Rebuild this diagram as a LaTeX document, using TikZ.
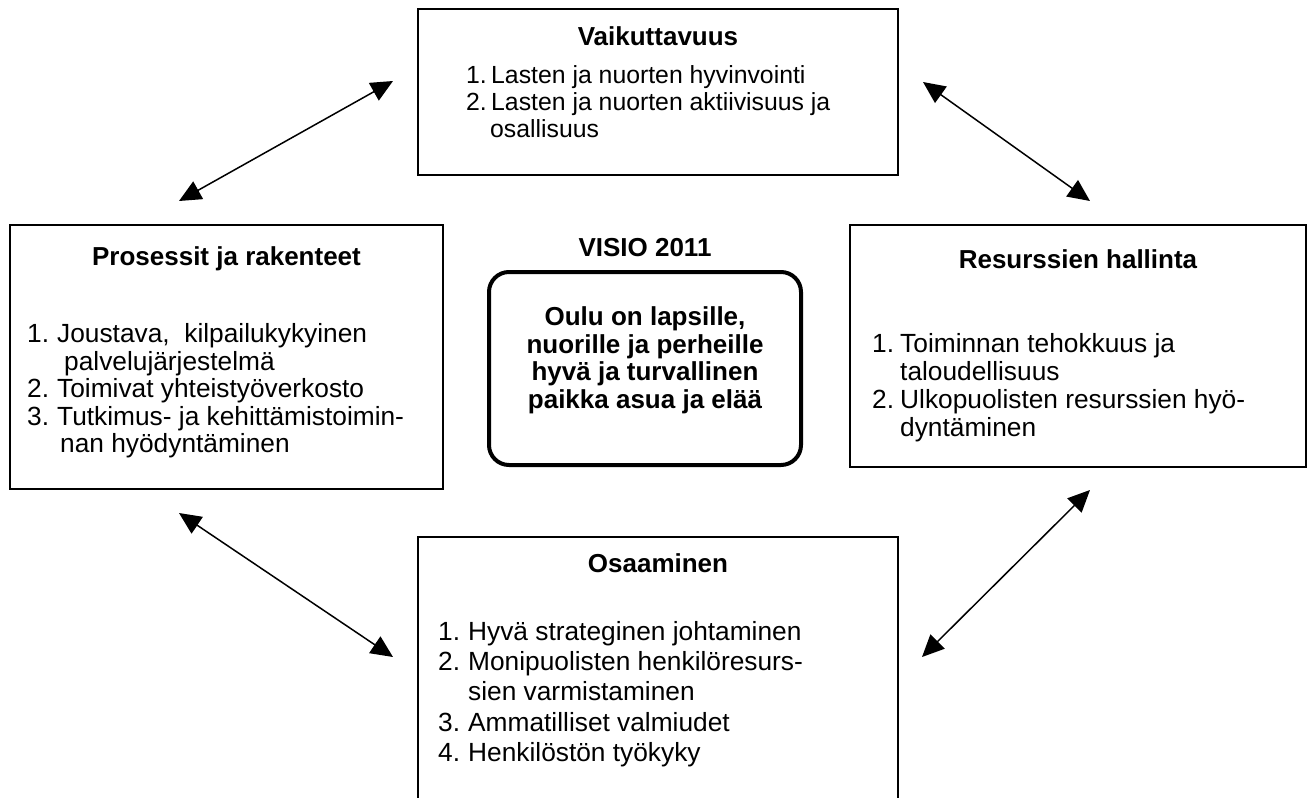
\documentclass[tikz,border=0pt]{standalone}
\usepackage{fontspec}
\setmainfont{Liberation Sans}
\usetikzlibrary{arrows.meta}
\begin{document}
\begin{tikzpicture}[x=1pt,y=-1pt,
  box/.style={draw, line width=1.5pt, inner sep=0pt},
  visionbox/.style={draw, line width=4pt, rounded corners=20pt, inner sep=0pt},
  body/.style={anchor=base west, inner sep=0pt, font=\fontsize{26.3}{30}\selectfont},
  smallbody/.style={anchor=base west, inner sep=0pt, font=\fontsize{24.8}{28}\selectfont},
  head/.style={anchor=base, inner sep=0pt, font=\fontsize{26}{30}\selectfont\bfseries},
  link/.style={line width=1.5pt, {Triangle[length=22pt,width=20pt]}-{Triangle[length=22pt,width=20pt]}}]
\clip (0,0) rectangle (1307,798);
\fill[white] (0,0) rectangle (1307,798);

% boxes
\node[box, minimum width=480pt, minimum height=166pt] (vai) at (658,92) {};
\node[box, minimum width=433pt, minimum height=264pt] (pro) at (226.5,357) {};
\node[box, minimum width=456pt, minimum height=242pt] (res) at (1078,346) {};
\node[box, minimum width=480pt, minimum height=283pt] (osa) at (658,678.5) {};
\node[visionbox, minimum width=312pt, minimum height=193pt] (vis) at (645,368.5) {};

% Vaikuttavuus
\node[head] (vaih) at (658,45) {Vaikuttavuus};
\node[smallbody] (vai1n) at (466,83) {1.};
\node[smallbody] (vai1) at (491,83) {Lasten ja nuorten hyvinvointi};
\node[smallbody] (vai2n) at (466,110) {2.};
\node[smallbody] (vai2) at (491,110) {Lasten ja nuorten aktiivisuus ja};
\node[smallbody] (vai2b) at (490,137) {osallisuus};

% Prosessit
\node[head] (proh) at (226.5,265) {Prosessit ja rakenteet};
\node[body] (pro1n) at (27,342) {1.};
\node[body] (pro1) at (57,342) {Joustava,\ \ kilpailukykyinen};
\node[body] (pro1b) at (64,370) {palvelujärjestelmä};
\node[body] (pro2n) at (27,397) {2.};
\node[body] (pro2) at (57,397) {Toimivat yhteistyöverkosto};
\node[body] (pro3n) at (27,425) {3.};
\node[body] (pro3) at (57,425) {Tutkimus- ja kehittämistoimin-};
\node[body] (pro3b) at (60,452) {nan hyödyntäminen};

% Resurssien hallinta
\node[head] (resh) at (1078,268) {Resurssien hallinta};
\node[body] (res1n) at (872,352) {1.};
\node[body] (res1) at (900,352) {Toiminnan tehokkuus ja};
\node[body] (res1b) at (900,380) {taloudellisuus};
\node[body] (res2n) at (872,408) {2.};
\node[body] (res2) at (900,408) {Ulkopuolisten resurssien hyö-};
\node[body] (res2b) at (900,436) {dyntäminen};

% Osaaminen
\node[head] (osah) at (658,572) {Osaaminen};
\node[body] (osa1n) at (438,640) {1.};
\node[body] (osa1) at (468,640) {Hyvä strateginen johtaminen};
\node[body] (osa2n) at (438,670) {2.};
\node[body] (osa2) at (468,670) {Monipuolisten henkilöresurs-};
\node[body] (osa2b) at (468,700) {sien varmistaminen};
\node[body] (osa3n) at (438,731) {3.};
\node[body] (osa3) at (468,731) {Ammatilliset valmiudet};
\node[body] (osa4n) at (438,761) {4.};
\node[body] (osa4) at (468,761) {Henkilöstön työkyky};

% Visio
\node[head] (vish) at (645,256) {VISIO 2011};
\node[head] (vis1) at (645,325) {Oulu on lapsille,};
\node[head] (vis2) at (645,353) {nuorille ja perheille};
\node[head] (vis3) at (645,380) {hyvä ja turvallinen};
\node[head] (vis4) at (645,408) {paikka asua ja elää};

% arrows
\coordinate (a1s) at (393,81);
\coordinate (a1e) at (179,201);
\coordinate (a2s) at (923,82);
\coordinate (a2e) at (1090,201);
\coordinate (a3s) at (179,513);
\coordinate (a3e) at (393,657);
\coordinate (a4s) at (1090,490);
\coordinate (a4e) at (922,657);
\draw[link] (a1s) -- (a1e);
\draw[link] (a2s) -- (a2e);
\draw[link] (a3s) -- (a3e);
\draw[link] (a4s) -- (a4e);
\end{tikzpicture}
\end{document}
